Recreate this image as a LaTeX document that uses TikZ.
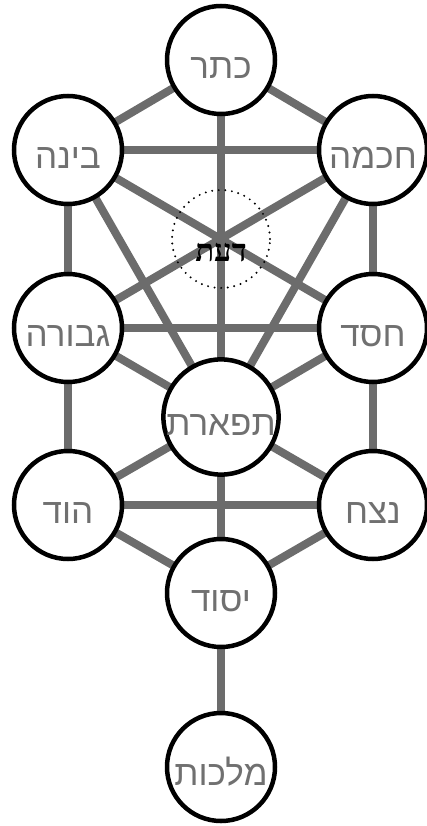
\documentclass[tikz,border=0pt]{standalone}
\usepackage{fontspec}
\usetikzlibrary{backgrounds}
\TeXXeTstate=1
\newfontfamily\hebfont[Script=Hebrew]{Liberation Sans}
\newfontfamily\hebserif[Script=Hebrew]{Liberation Serif}
\definecolor{pathgray}{HTML}{6C6C6C}
\definecolor{textgray}{HTML}{707070}
\tikzset{
  sefira/.style={circle, draw=black, line width=4.5pt, fill=white,
    minimum size=108pt, inner sep=0pt, text=textgray,
    font=\hebfont\fontsize{35}{35}\selectfont, text height=37pt, text depth=0pt},
  daatnode/.style={circle, draw=black, line width=2.2pt, line cap=round,
    dash pattern=on 0pt off 6.6pt, minimum size=98pt, inner sep=0pt,
    font=\hebserif\bfseries\fontsize{31}{31}\selectfont, text=black,
    text height=44pt, text depth=0pt},
  pathline/.style={draw=pathgray, line width=8pt}
}
\begin{document}
\begin{tikzpicture}[x=1pt,y=-1pt]
\useasboundingbox (0,0) rectangle (427,826);
\node[sefira] (keter) at (221,60) {\beginR כתר\endR};
\node[sefira] (binah) at (68,150) {\beginR בינה\endR};
\node[sefira] (chokhmah) at (373,150) {\beginR חכמה\endR};
\node[daatnode] (daat) at (221,239) {\beginR דעת\endR};
\node[sefira] (gevurah) at (68,328) {\beginR גבורה\endR};
\node[sefira] (chesed) at (373,328) {\beginR חסד\endR};
\node[sefira] (tiferet) at (221,417) {\beginR תפארת\endR};
\node[sefira] (hod) at (68,505) {\beginR הוד\endR};
\node[sefira] (netzach) at (373,505) {\beginR נצח\endR};
\node[sefira] (yesod) at (221,593) {\beginR יסוד\endR};
\node[sefira] (malkhut) at (221,767) {\beginR מלכות\endR};
\begin{scope}[on background layer]
\path[pathline] (keter.center) -- (binah.center);
\path[pathline] (keter.center) -- (chokhmah.center);
\path[pathline] (keter.center) -- (tiferet.center);
\path[pathline] (binah.center) -- (chokhmah.center);
\path[pathline] (binah.center) -- (gevurah.center);
\path[pathline] (chokhmah.center) -- (chesed.center);
\path[pathline] (binah.center) -- (tiferet.center);
\path[pathline] (chokhmah.center) -- (tiferet.center);
\path[pathline] (binah.center) -- (chesed.center);
\path[pathline] (chokhmah.center) -- (gevurah.center);
\path[pathline] (gevurah.center) -- (chesed.center);
\path[pathline] (gevurah.center) -- (tiferet.center);
\path[pathline] (chesed.center) -- (tiferet.center);
\path[pathline] (gevurah.center) -- (hod.center);
\path[pathline] (chesed.center) -- (netzach.center);
\path[pathline] (tiferet.center) -- (hod.center);
\path[pathline] (tiferet.center) -- (netzach.center);
\path[pathline] (tiferet.center) -- (yesod.center);
\path[pathline] (hod.center) -- (netzach.center);
\path[pathline] (hod.center) -- (yesod.center);
\path[pathline] (netzach.center) -- (yesod.center);
\path[pathline] (yesod.center) -- (malkhut.center);
\end{scope}
\end{tikzpicture}
\end{document}
